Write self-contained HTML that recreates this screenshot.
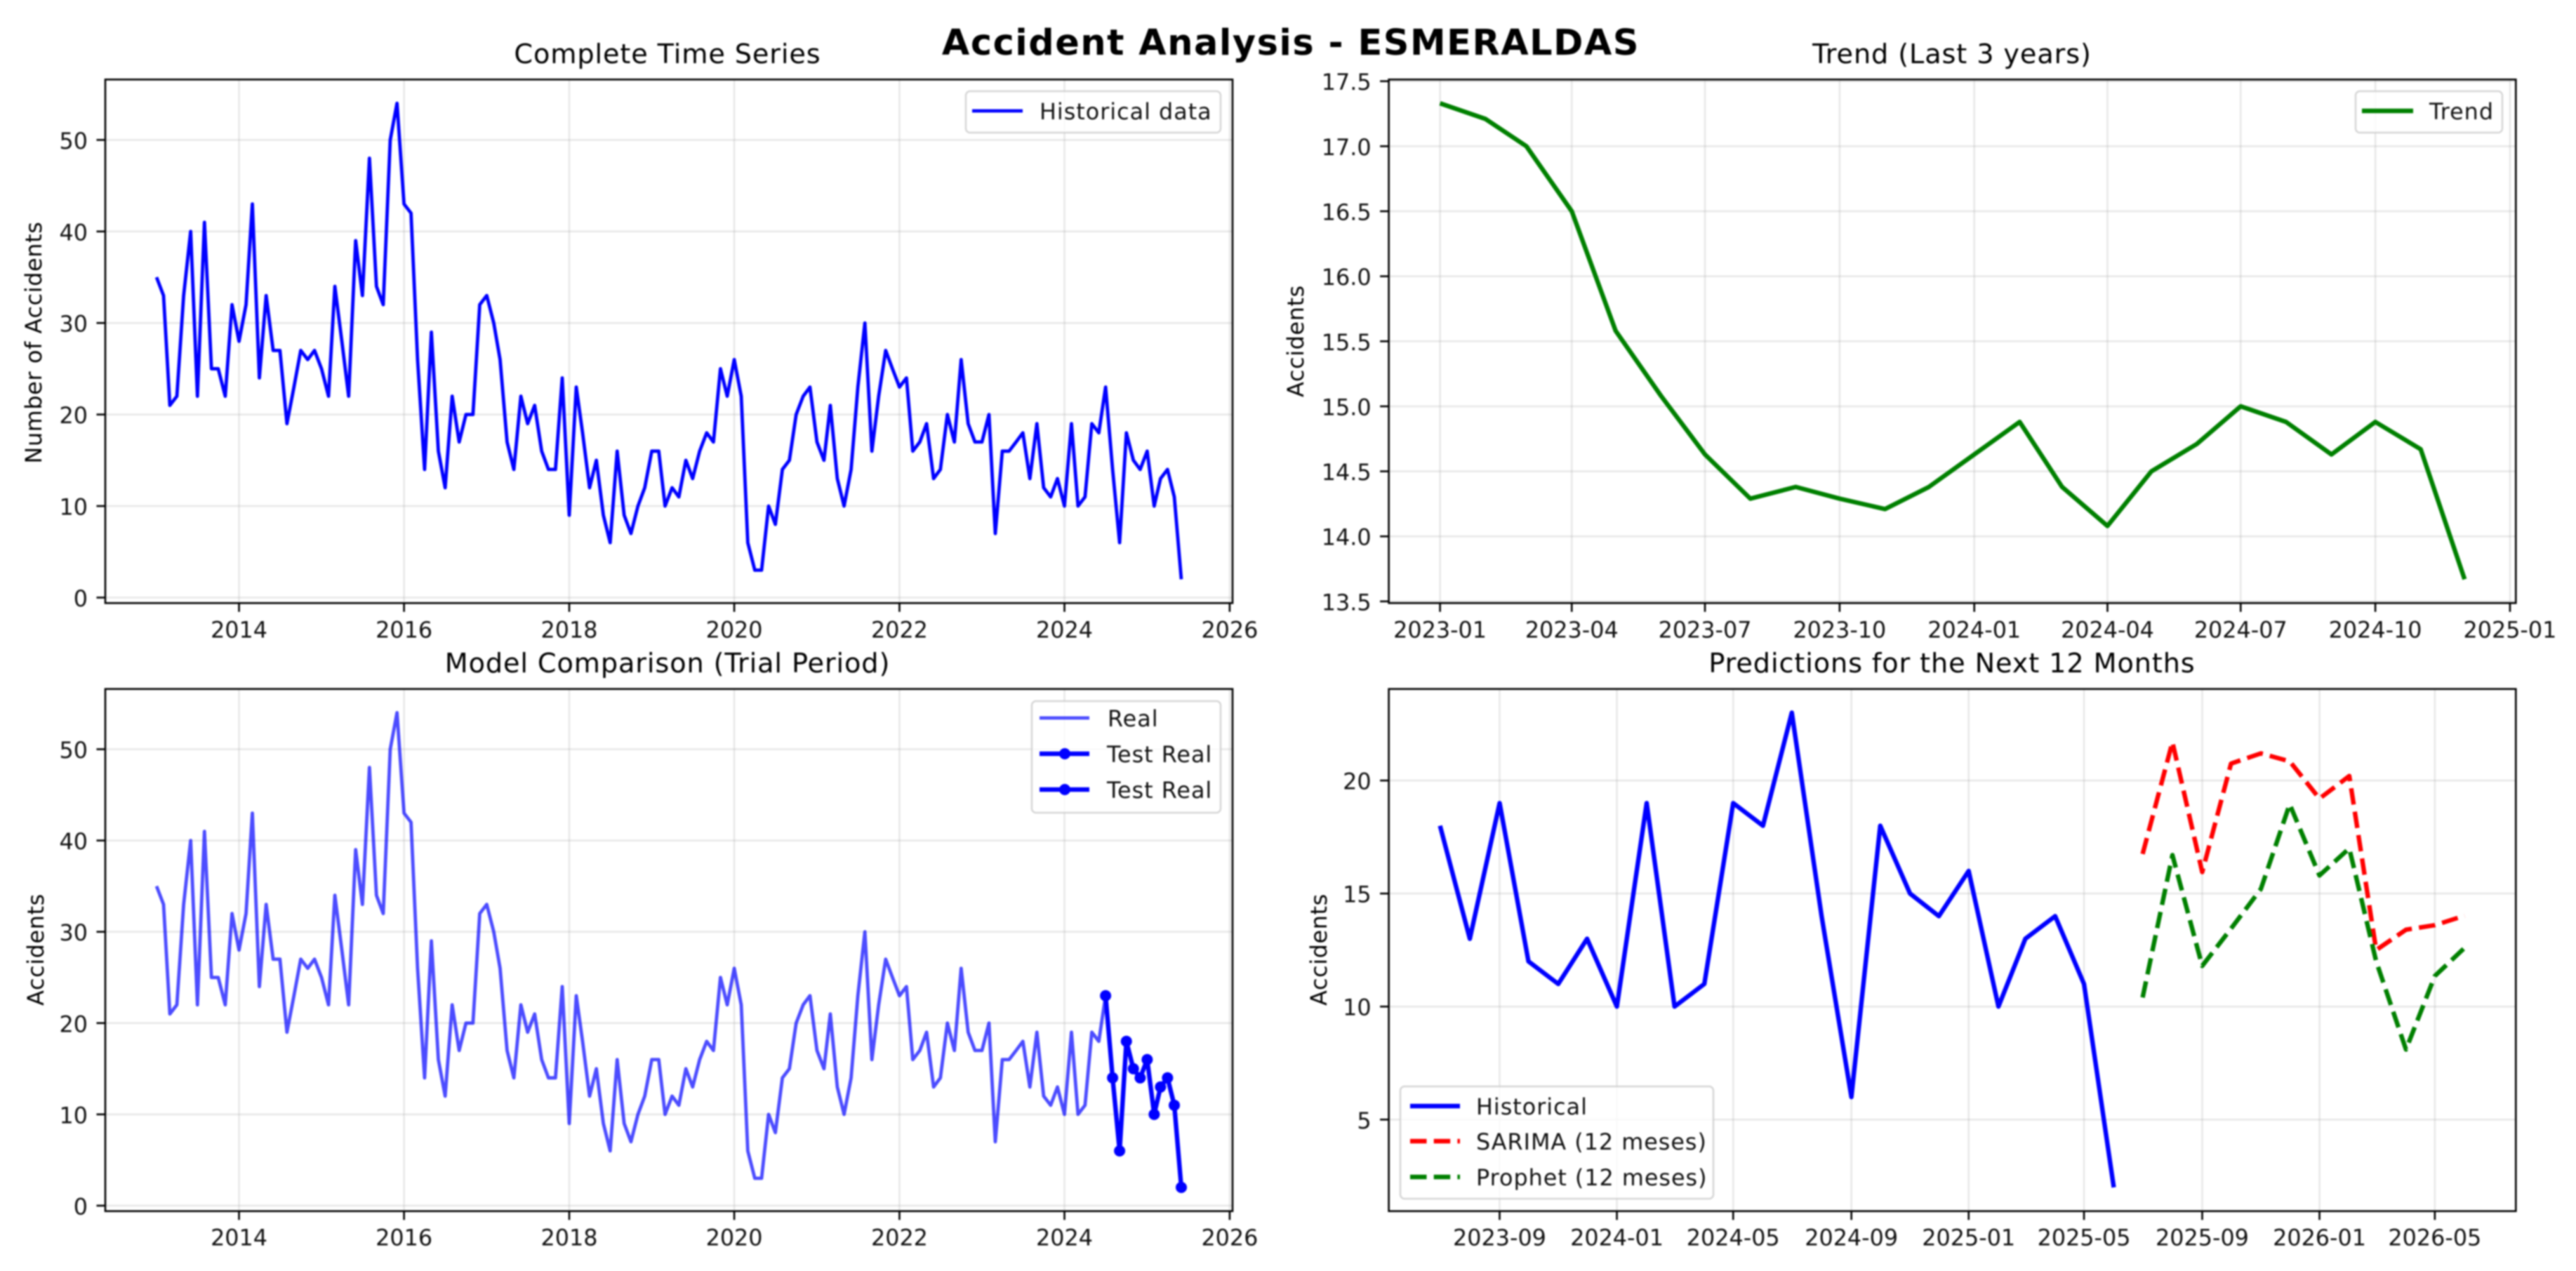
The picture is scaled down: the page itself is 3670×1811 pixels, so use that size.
<!DOCTYPE html>
<html lang="en">
<head>
<meta charset="utf-8">
<title>Accident Analysis - ESMERALDAS</title>
<style>
  html, body { margin: 0; padding: 0; background: #fff; width: 3670px; height: 1811px; overflow: hidden; }
  svg { display: block; filter: blur(1.05px); }
  text { font-family: "DejaVu Sans", "Liberation Sans", sans-serif; fill: #000; }
  .tick { font-size: 31.8px; fill: #111; }
  .legend-text { font-size: 31.8px; fill: #111; letter-spacing: 1px; }
  .title { font-size: 38.2px; text-anchor: middle; letter-spacing: 0.9px; }
  .ylabel { font-size: 31.8px; text-anchor: middle; letter-spacing: 0.65px; }
  .legend-box { fill: #fff; fill-opacity: 0.8; stroke: #ccc; stroke-opacity: 0.8; stroke-width: 2.5; }
</style>
</head>
<body>
<svg id="figure" xmlns="http://www.w3.org/2000/svg" width="3670" height="1811" viewBox="0 0 3670 1811">
  <rect x="0" y="0" width="3670" height="1811" fill="#fff"/>

  <g id="panel-history"></g>
  <g id="panel-trend"></g>
  <g id="panel-compare"></g>
  <g id="panel-forecast"></g>

  <text x="1839" y="78" text-anchor="middle" font-size="50.9" font-weight="bold" letter-spacing="1.55">Accident Analysis - ESMERALDAS</text>

  <text class="title" x="951" y="90">Complete Time Series</text>
  <text class="title" x="2781" y="90">Trend (Last 3 years)</text>
  <text class="title" x="951" y="958">Model Comparison (Trial Period)</text>
  <text class="title" x="2781" y="958">Predictions for the Next 12 Months</text>

  <text class="ylabel" transform="translate(59,488) rotate(-90)">Number of Accidents</text>
  <text class="ylabel" transform="translate(1857,486) rotate(-90)">Accidents</text>
  <text class="ylabel" transform="translate(62,1353) rotate(-90)">Accidents</text>
  <text class="ylabel" transform="translate(1890,1353) rotate(-90)">Accidents</text>

  <g>
    <rect class="legend-box" x="1376" y="130" width="363" height="59" rx="6"/>
    <line x1="1385" y1="158" x2="1457" y2="158" stroke="#0000ff" stroke-width="4.8"/>
    <text class="legend-text" x="1481" y="170">Historical data</text>
  </g>

  <g>
    <rect class="legend-box" x="3356" y="130" width="209" height="59" rx="6"/>
    <line x1="3365" y1="158" x2="3438" y2="158" stroke="#008000" stroke-width="6.4"/>
    <text class="legend-text" x="3461" y="170">Trend</text>
  </g>

  <g>
    <rect class="legend-box" x="1470" y="999" width="269" height="159" rx="6"/>
    <line x1="1481" y1="1023" x2="1552" y2="1023" stroke="#0000ff" stroke-opacity="0.7" stroke-width="4.8"/>
    <text class="legend-text" x="1578" y="1035">Real</text>
    <line x1="1481" y1="1074" x2="1552" y2="1074" stroke="#0000ff" stroke-width="6.4"/>
    <circle cx="1517" cy="1074" r="8" fill="#0000ff"/>
    <text class="legend-text" x="1577" y="1086">Test Real</text>
    <line x1="1481" y1="1125" x2="1552" y2="1125" stroke="#0000ff" stroke-width="6.4"/>
    <circle cx="1517" cy="1125" r="8" fill="#0000ff"/>
    <text class="legend-text" x="1577" y="1137">Test Real</text>
  </g>

  <g>
    <rect class="legend-box" x="1995" y="1548" width="446" height="160" rx="6"/>
    <line x1="2009" y1="1576" x2="2080" y2="1576" stroke="#0000ff" stroke-width="6.4"/>
    <text class="legend-text" x="2103" y="1588">Historical</text>
    <line x1="2009" y1="1626" x2="2080" y2="1626" stroke="#ff0000" stroke-width="6.4" stroke-dasharray="23.5 10.2"/>
    <text class="legend-text" x="2103" y="1638">SARIMA (12 meses)</text>
    <line x1="2009" y1="1677" x2="2080" y2="1677" stroke="#008000" stroke-width="6.4" stroke-dasharray="23.5 10.2"/>
    <text class="legend-text" x="2103" y="1689">Prophet (12 meses)</text>
  </g>
</svg>

<script>
// ---- Chart data ----
const historyStart = '2013-01';
const historyValues = [
  35,33,21,22,33,40,22,41,25,25,22,32,
  28,32,43,24,33,27,27,19,23,27,26,27,
  25,22,34,28,22,39,33,48,34,32,50,54,
  43,42,26,14,29,16,12,22,17,20,20,32,
  33,30,26,17,14,22,19,21,16,14,14,24,
  9,23,18,12,15,9,6,16,9,7,10,12,
  16,16,10,12,11,15,13,16,18,17,25,22,
  26,22,6,3,3,10,8,14,15,20,22,23,
  17,15,21,13,10,14,23,30,16,22,27,25,
  23,24,16,17,19,13,14,20,17,26,19,17,
  17,20,7,16,16,17,18,13,19,12,11,13,
  10,19,10,11,19,18,23,14,6,18,15,14,
  16,10,13,14,11,2
];
const trendStart = '2023-01';
const trendValues = [17.33,17.21,17.0,16.5,15.58,15.08,14.63,14.29,14.38,14.29,14.21,14.38,14.63,14.88,14.38,14.08,14.5,14.71,15.0,14.88,14.63,14.88,14.67,13.67];
const testStart = '2024-07';
const testValues = [23,14,6,18,15,14,16,10,13,14,11,2];
const recentStart = '2023-07';
const recentValues = [18,13,19,12,11,13,10,19,10,11,19,18,23,14,6,18,15,14,16,10,13,14,11,2];
const forecastStart = '2025-07';
const sarimaValues = [16.75,21.7,15.95,20.75,21.2,20.85,19.2,20.2,12.5,13.4,13.6,14.02];
const prophetValues = [10.4,16.7,11.8,13.45,15.2,18.95,15.8,17.0,12.0,8.1,11.35,12.6];

const yearTickLabels = ['2014','2016','2018','2020','2022','2024','2026'];
const trendTickLabels = ['2023-01','2023-04','2023-07','2023-10','2024-01','2024-04','2024-07','2024-10','2025-01'];
const forecastTickLabels = ['2023-09','2024-01','2024-05','2024-09','2025-01','2025-05','2025-09','2026-01','2026-05'];
const countTickLabels = ['0','10','20','30','40','50'];
const trendYTickLabels = ['13.5','14.0','14.5','15.0','15.5','16.0','16.5','17.0','17.5'];
const forecastYTickLabels = ['5','10','15','20'];

const countDomain = [-0.6, 56.6];
const trendDomain = [13.487, 17.513];
const forecastDomain = [0.95, 24.05];

// ---- Helpers ----
const SVG_NS = 'http://www.w3.org/2000/svg';

function toDay(label) {
  const parts = label.split('-');
  const year = Number(parts[0]);
  const month = parts.length > 1 ? Number(parts[1]) - 1 : 0;
  return Date.UTC(year, month, 1) / 86400000;
}
function monthDay(start, offset) {
  const parts = start.split('-');
  return Date.UTC(Number(parts[0]), Number(parts[1]) - 1 + offset, 1) / 86400000;
}
function lastDay(start, count) {
  return monthDay(start, count - 1);
}
function make(tag, attrs, parent) {
  const el = document.createElementNS(SVG_NS, tag);
  for (const key in attrs) el.setAttribute(key, attrs[key]);
  parent.appendChild(el);
  return el;
}
function marginDomain(lo, hi) {
  const pad = (hi - lo) * 0.05;
  return [lo - pad, hi + pad];
}
function makeAxes(box, xRange, yDomain) {
  return {
    box: box,
    x: function (day) { return box.left + (day - xRange[0]) / (xRange[1] - xRange[0]) * (box.right - box.left); },
    y: function (value) { return box.bottom - (value - yDomain[0]) / (yDomain[1] - yDomain[0]) * (box.bottom - box.top); }
  };
}
function drawFrame(parent, axes, xLabels, yLabels) {
  const box = axes.box;
  const background = make('rect', { x: box.left, y: box.top, width: box.right - box.left, height: box.bottom - box.top, fill: '#fff' }, parent);
  
  

  xLabels.forEach(function (label) {
    const px = axes.x(toDay(label));
    const grid = make('line', { x1: px, x2: px, y1: box.top, y2: box.bottom, stroke: '#b0b0b0', 'stroke-opacity': 0.3, 'stroke-width': 2.5 }, parent);
    
    
  });
  yLabels.forEach(function (label) {
    const py = axes.y(Number(label));
    const grid = make('line', { x1: box.left, x2: box.right, y1: py, y2: py, stroke: '#b0b0b0', 'stroke-opacity': 0.3, 'stroke-width': 2.5 }, parent);
    
    
  });
}
function drawAxes(parent, axes, xLabels, yLabels) {
  const box = axes.box;
  const frame = make('rect', { x: box.left, y: box.top, width: box.right - box.left, height: box.bottom - box.top, fill: 'none', stroke: '#000', 'stroke-width': 2.6 }, parent);
  
  

  xLabels.forEach(function (label) {
    const px = axes.x(toDay(label));
    const tick = make('line', { x1: px, x2: px, y1: box.bottom, y2: box.bottom + 12.5, stroke: '#000', 'stroke-width': 2.6 }, parent);
    
    
    const text = make('text', { x: px, y: box.bottom + 49, 'text-anchor': 'middle', class: 'tick' }, parent);
    text.textContent = label;
    
    
  });
  yLabels.forEach(function (label) {
    const py = axes.y(Number(label));
    const tick = make('line', { x1: box.left - 12.5, x2: box.left, y1: py, y2: py, stroke: '#000', 'stroke-width': 2.6 }, parent);
    
    
    const text = make('text', { x: box.left - 25, y: py + 12.5, 'text-anchor': 'end', class: 'tick' }, parent);
    text.textContent = label;
    
    
  });
}
function linePoints(axes, start, values) {
  return values.map(function (value, i) {
    return axes.x(monthDay(start, i)).toFixed(2) + ',' + axes.y(value).toFixed(2);
  }).join(' ');
}
function drawLine(parent, axes, start, values, style) {
  const attrs = { points: linePoints(axes, start, values), fill: 'none', 'stroke-linejoin': 'round' };
  for (const key in style) attrs[key] = style[key];
  return make('polyline', attrs, parent);
}

// ---- Panels ----
const leftX = { left: 150, right: 1756 };
const rightX = { left: 1978.6, right: 3584.3 };
const topY = { top: 113.3, bottom: 859.3 };
const bottomY = { top: 981.7, bottom: 1725.7 };

// Complete time series
const historyRange = marginDomain(monthDay(historyStart, 0), lastDay(historyStart, historyValues.length));
const historyAxes = makeAxes({ left: leftX.left, right: leftX.right, top: topY.top, bottom: topY.bottom }, historyRange, countDomain);
const historyPanel = document.getElementById('panel-history');
drawFrame(historyPanel, historyAxes, yearTickLabels, countTickLabels);
const historyLine = drawLine(historyPanel, historyAxes, historyStart, historyValues, { stroke: '#0000ff', 'stroke-width': 4.8 });


drawAxes(historyPanel, historyAxes, yearTickLabels, countTickLabels);

// Trend
const trendRange = marginDomain(monthDay(trendStart, 0), lastDay(trendStart, trendValues.length));
const trendAxes = makeAxes({ left: rightX.left, right: rightX.right, top: topY.top, bottom: topY.bottom }, trendRange, trendDomain);
const trendPanel = document.getElementById('panel-trend');
drawFrame(trendPanel, trendAxes, trendTickLabels, trendYTickLabels);
const trendLine = drawLine(trendPanel, trendAxes, trendStart, trendValues, { stroke: '#008000', 'stroke-width': 6.4 });


drawAxes(trendPanel, trendAxes, trendTickLabels, trendYTickLabels);

// Model comparison
const compareAxes = makeAxes({ left: leftX.left, right: leftX.right, top: bottomY.top, bottom: bottomY.bottom }, historyRange, countDomain);
const comparePanel = document.getElementById('panel-compare');
drawFrame(comparePanel, compareAxes, yearTickLabels, countTickLabels);
const realLine = drawLine(comparePanel, compareAxes, historyStart, historyValues, { stroke: '#0000ff', 'stroke-opacity': 0.7, 'stroke-width': 4.8 });


const testLine = drawLine(comparePanel, compareAxes, testStart, testValues, { stroke: '#0000ff', 'stroke-width': 6.4 });


testValues.forEach(function (value, i) {
  const dot = make('circle', { cx: compareAxes.x(monthDay(testStart, i)), cy: compareAxes.y(value), r: 8, fill: '#0000ff' }, comparePanel);
  
  
});
drawAxes(comparePanel, compareAxes, yearTickLabels, countTickLabels);

// Predictions
const forecastRange = marginDomain(monthDay(recentStart, 0), lastDay(forecastStart, sarimaValues.length));
const forecastAxes = makeAxes({ left: rightX.left, right: rightX.right, top: bottomY.top, bottom: bottomY.bottom }, forecastRange, forecastDomain);
const forecastPanel = document.getElementById('panel-forecast');
drawFrame(forecastPanel, forecastAxes, forecastTickLabels, forecastYTickLabels);
const recentLine = drawLine(forecastPanel, forecastAxes, recentStart, recentValues, { stroke: '#0000ff', 'stroke-width': 6.4 });


const sarimaLine = drawLine(forecastPanel, forecastAxes, forecastStart, sarimaValues, { stroke: '#ff0000', 'stroke-width': 6.4, 'stroke-dasharray': '23.5 10.2' });


const prophetLine = drawLine(forecastPanel, forecastAxes, forecastStart, prophetValues, { stroke: '#008000', 'stroke-width': 6.4, 'stroke-dasharray': '23.5 10.2' });


drawAxes(forecastPanel, forecastAxes, forecastTickLabels, forecastYTickLabels);
</script>
</body>
</html>
